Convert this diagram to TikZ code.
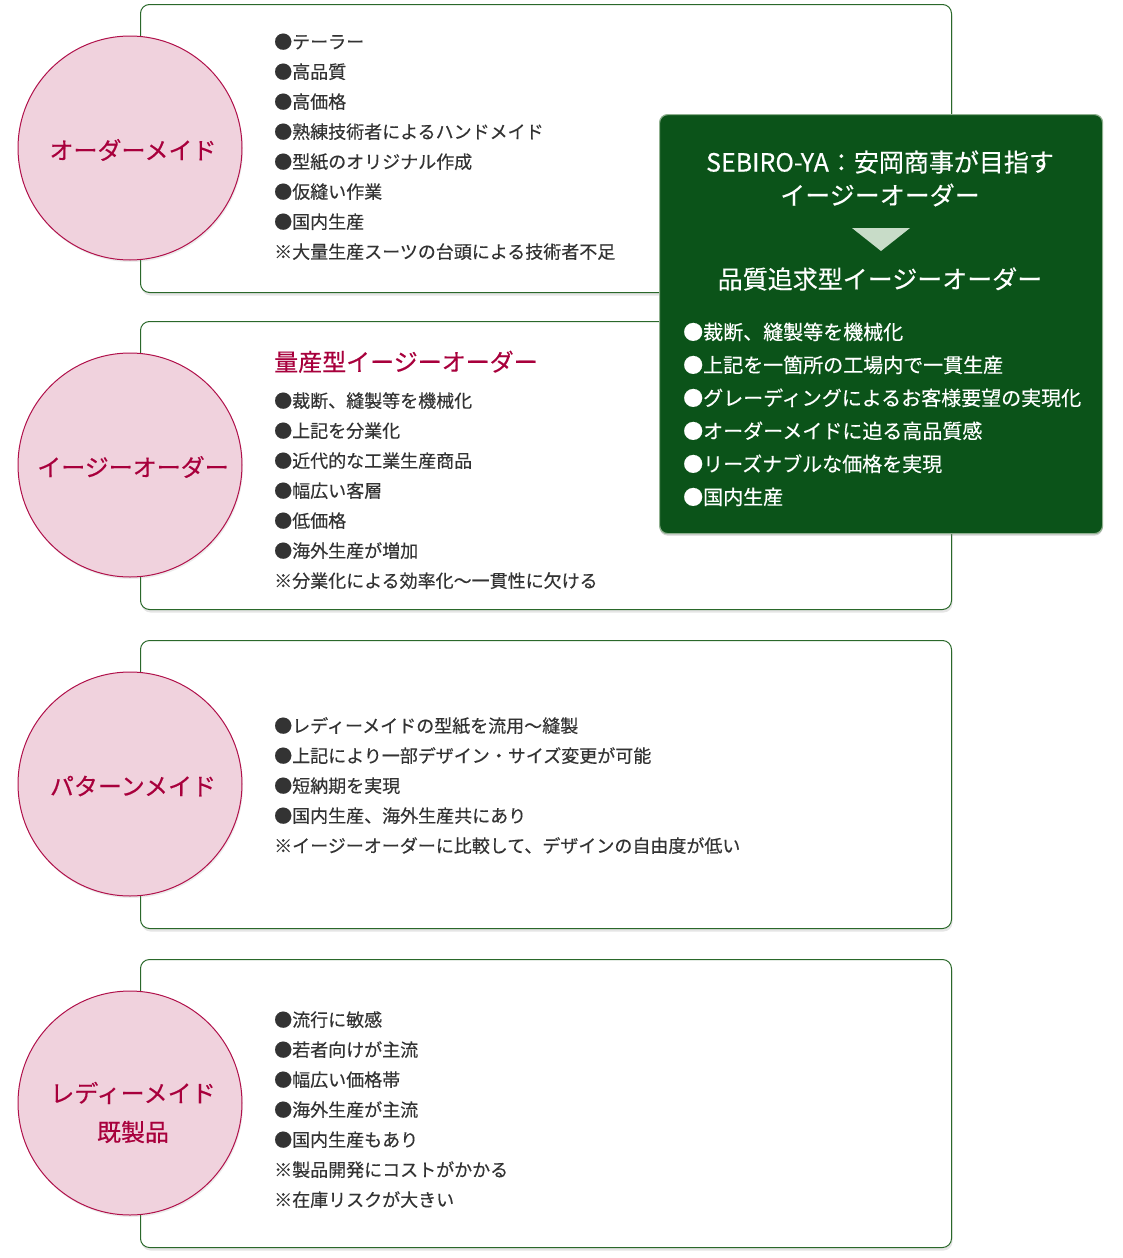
\documentclass[tikz,border=0pt]{standalone}
\usepackage{fontspec}
\setmainfont{Noto Sans CJK JP}
\newfontface\medfont{Noto Sans CJK JP}[FakeBold=0.35]
\usetikzlibrary{shadows}
\definecolor{boxline}{HTML}{2A682A}
\definecolor{circfill}{HTML}{F0D2DD}
\definecolor{circline}{HTML}{B0104A}
\definecolor{circtext}{HTML}{A8003C}
\definecolor{bodytext}{HTML}{333333}
\definecolor{greenfill}{HTML}{0B5319}
\definecolor{greenline}{HTML}{8FB08F}
\definecolor{tri}{HTML}{C8DCC8}
\tikzset{
  x=1pt, y=-1pt,
  panel/.style={draw=boxline, line width=1pt, rounded corners=9pt, fill=white,
    minimum width=811pt, minimum height=288pt, anchor=north west, inner sep=0pt,
    drop shadow={shadow xshift=1pt, shadow yshift=-3pt, opacity=0.2}},
  circ/.style={circle, draw=circline, fill=circfill, line width=1pt,
    minimum size=224pt, inner sep=0pt,
    drop shadow={shadow xshift=1pt, shadow yshift=-2pt, opacity=0.15}},
  circlabel/.style={text=circtext, font=\medfont\fontsize{24}{28}\selectfont, inner sep=0pt},
  body/.style={text=bodytext, font=\medfont\fontsize{18}{22}\selectfont, anchor=base west, inner sep=0pt},
  subhead/.style={text=circtext, font=\medfont\fontsize{24}{28}\selectfont, anchor=base west, inner sep=0pt},
  greenbox/.style={draw=greenline, line width=1.2pt, rounded corners=8pt, fill=greenfill,
    minimum width=443pt, minimum height=419pt, anchor=north west, inner sep=0pt,
    drop shadow={shadow xshift=0pt, shadow yshift=-2pt, opacity=0.35}},
  gtitle/.style={text=white, font=\medfont\fontsize{25}{29}\selectfont, inner sep=0pt},
  gbody/.style={text=white, font=\medfont\fontsize{20}{24}\selectfont, anchor=base west, inner sep=0pt},
}
\begin{document}
\begin{tikzpicture}
\useasboundingbox (0,0) rectangle (1122,1258);
\fill[white] (0,0) rectangle (1122,1258);

% panels
\node[panel] (p1) at (140,4) {};
\node[panel] (p2) at (140,321) {};
\node[panel] (p3) at (140,640) {};
\node[panel] (p4) at (140,959) {};

% circles
\node[circ] (c1) at (130,148) {};
\node[circ] (c2) at (130,465) {};
\node[circ] (c3) at (130,784) {};
\node[circ] (c4) at (130,1103) {};
\node[circlabel] (l1) at (133,150) {オーダーメイド};
\node[circlabel] (l2) at (133,467) {イージーオーダー};
\node[circlabel] (l3) at (133,786) {パターンメイド};
\node[circlabel] (l4a) at (133,1093) {レディーメイド};
\node[circlabel] (l4b) at (133,1132) {既製品};

% panel 1 text
\foreach \t [count=\i] in {●テーラー,●高品質,●高価格,●熟練技術者によるハンドメイド,●型紙のオリジナル作成,●仮縫い作業,●国内生産,※大量生産スーツの台頭による技術者不足}
  \node[body] (a\i) at (274,{42+30*(\i-1)+6.5}) {\t};

% panel 2 text
\node[subhead] (h2) at (274,371) {量産型イージーオーダー};
\foreach \t [count=\i] in {●裁断、縫製等を機械化,●上記を分業化,●近代的な工業生産商品,●幅広い客層,●低価格,●海外生産が増加,※分業化による効率化〜一貫性に欠ける}
  \node[body] (b\i) at (274,{401+30*(\i-1)+6.5}) {\t};

% panel 3 text
\foreach \t [count=\i] in {●レディーメイドの型紙を流用〜縫製,●上記により一部デザイン・サイズ変更が可能,●短納期を実現,●国内生産、海外生産共にあり,※イージーオーダーに比較して、デザインの自由度が低い}
  \node[body] (d\i) at (274,{726+30*(\i-1)+6.5}) {\t};

% panel 4 text
\foreach \t [count=\i] in {●流行に敏感,●若者向けが主流,●幅広い価格帯,●海外生産が主流,●国内生産もあり,※製品開発にコストがかかる,※在庫リスクが大きい}
  \node[body] (e\i) at (274,{1020+30*(\i-1)+6.5}) {\t};

% green box
\node[greenbox] (g) at (659,114) {};
\node[gtitle] (g1) at (880,162) {SEBIRO-YA：安岡商事が目指す};
\node[gtitle] (g2) at (880,195) {イージーオーダー};
\fill[tri] (852,228) -- (910,228) -- (881,251) -- cycle;
\node[gtitle] (g3) at (880,279) {品質追求型イージーオーダー};
\foreach \t [count=\i] in {●裁断、縫製等を機械化,●上記を一箇所の工場内で一貫生産,●グレーディングによるお客様要望の実現化,●オーダーメイドに迫る高品質感,●リーズナブルな価格を実現,●国内生産}
  \node[gbody] (f\i) at (683,{332+33*(\i-1)+7.5}) {\t};
\end{tikzpicture}
\end{document}
